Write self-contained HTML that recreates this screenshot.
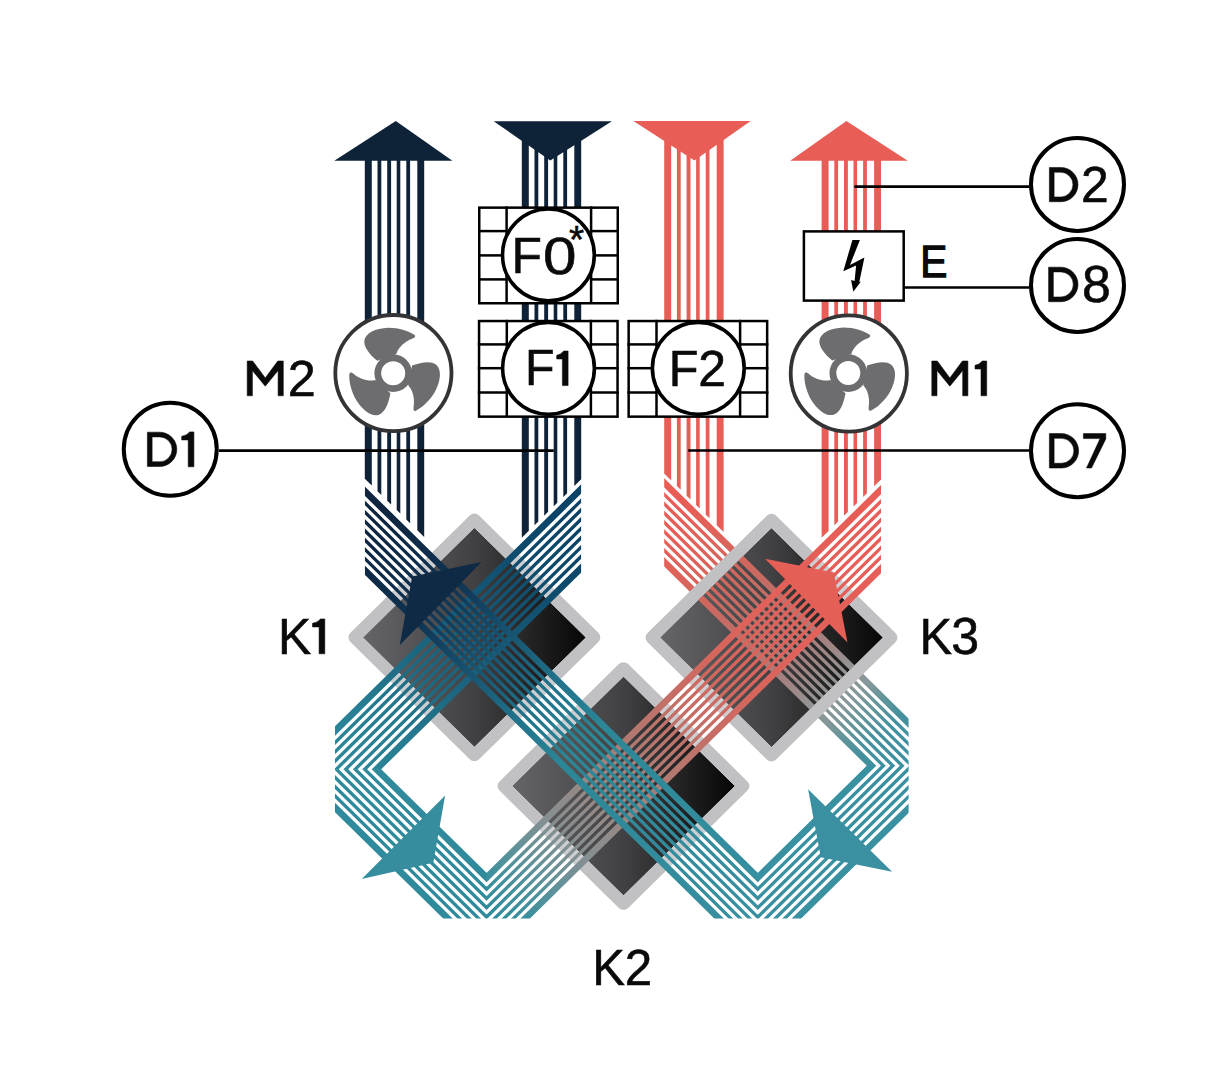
<!DOCTYPE html>
<html><head><meta charset="utf-8"><title>Diagram</title>
<style>html,body{margin:0;padding:0;background:#fff;overflow:hidden;width:1205px;height:1080px;}svg{display:block;}text{font-family:"Liberation Sans",sans-serif;}</style>
</head><body>
<svg width="1205" height="1080" viewBox="0 0 1205 1080">
<defs><clipPath id="r1"><rect x="339.81" y="0" width="241.99" height="769.85"/></clipPath><clipPath id="r2"><rect x="339.81" y="769.25" width="149.04" height="149.25"/></clipPath><clipPath id="r3"><polygon points="488.25,769.25 876.68,381.42 876.68,918.5 488.25,918.5"/></clipPath><clipPath id="r4"><rect x="663.51" y="0" width="240.31" height="766.3"/></clipPath><clipPath id="r5"><rect x="755.5" y="765.7" width="148.32" height="152.8"/></clipPath><clipPath id="r6"><polygon points="369.11,379.31 756.1,765.7 756.1,918.5 369.11,918.5"/></clipPath><linearGradient id="g1" gradientUnits="userSpaceOnUse" x1="581.8" y1="528.55" x2="339.81" y2="770.54"><stop offset="0" stop-color="#0b4266"/><stop offset="0.17" stop-color="#0e4b6d"/><stop offset="0.4" stop-color="#175a78"/><stop offset="0.6" stop-color="#1d6680"/><stop offset="0.78" stop-color="#257a8f"/><stop offset="1" stop-color="#2f8b9c"/></linearGradient><linearGradient id="g3" gradientUnits="userSpaceOnUse" x1="488.85" y1="917" x2="876.68" y2="529.17"><stop offset="0" stop-color="#2f8b9c"/><stop offset="0.05" stop-color="#3a8f9d"/><stop offset="0.12" stop-color="#5d929a"/><stop offset="0.2" stop-color="#858f91"/><stop offset="0.3" stop-color="#988884"/><stop offset="0.4" stop-color="#b07a72"/><stop offset="0.5" stop-color="#c27068"/><stop offset="0.62" stop-color="#d4665d"/><stop offset="0.75" stop-color="#e1615a"/><stop offset="1" stop-color="#e85d56"/></linearGradient><linearGradient id="g4" gradientUnits="userSpaceOnUse" x1="663.51" y1="522.36" x2="903.82" y2="762.67"><stop offset="0" stop-color="#e85d56"/><stop offset="0.12" stop-color="#e06259"/><stop offset="0.25" stop-color="#d0675e"/><stop offset="0.42" stop-color="#b8716b"/><stop offset="0.56" stop-color="#a6807e"/><stop offset="0.68" stop-color="#939393"/><stop offset="0.75" stop-color="#86979a"/><stop offset="0.81" stop-color="#649599"/><stop offset="0.88" stop-color="#46909e"/><stop offset="1" stop-color="#3890a1"/></linearGradient><linearGradient id="g6" gradientUnits="userSpaceOnUse" x1="755.5" y1="917.05" x2="369.11" y2="530.66"><stop offset="0" stop-color="#3890a1"/><stop offset="0.45" stop-color="#2b8696"/><stop offset="0.56" stop-color="#21728a"/><stop offset="0.72" stop-color="#154a68"/><stop offset="0.82" stop-color="#0f3352"/><stop offset="1" stop-color="#0f2540"/></linearGradient><linearGradient id="dg" x1="0" y1="0" x2="1" y2="0"><stop offset="0" stop-color="#656567"/><stop offset="0.5" stop-color="#414143"/><stop offset="1" stop-color="#060606"/></linearGradient><clipPath id="rings"><path clip-rule="evenodd" d="M472.28,515.5 A6.5,6.5 0 0 1 481.48,515.5 L598.78,632.8 A6.5,6.5 0 0 1 598.78,642 L481.48,759.3 A6.5,6.5 0 0 1 472.28,759.3 L354.98,642 A6.5,6.5 0 0 1 354.98,632.8 Z M367.28,637.4 L476.88,527.8 L586.48,637.4 L476.88,747 Z M618.89,664.1 A6.5,6.5 0 0 1 628.08,664.1 L745.39,781.4 A6.5,6.5 0 0 1 745.39,790.6 L628.08,907.9 A6.5,6.5 0 0 1 618.89,907.9 L501.58,790.6 A6.5,6.5 0 0 1 501.58,781.4 Z M513.89,786 L623.49,676.4 L733.09,786 L623.49,895.6 Z M764.42,515.7 A6.5,6.5 0 0 1 773.61,515.7 L890.92,633 A6.5,6.5 0 0 1 890.92,642.2 L773.61,759.5 A6.5,6.5 0 0 1 764.42,759.5 L647.11,642.2 A6.5,6.5 0 0 1 647.11,633 Z M659.41,637.6 L769.01,528 L878.61,637.6 L769.01,747.2 Z"/></clipPath></defs>
<rect width="1205" height="1080" fill="#fff"/>
<polygon fill="#0f2338" points="364.8,160 371.8,160 371.8,485.6 364.8,478.71"/>
<polygon fill="#0f2338" points="377.5,160 381.3,160 381.3,494.94 377.5,491.2"/>
<polygon fill="#0f2338" points="387.2,160 391.1,160 391.1,504.57 387.2,500.74"/>
<polygon fill="#0f2338" points="396.7,160 400.3,160 400.3,513.62 396.7,510.08"/>
<polygon fill="#0f2338" points="406.3,160 410.1,160 410.1,523.26 406.3,519.52"/>
<polygon fill="#0f2338" points="417.3,160 424.2,160 424.2,537.12 417.3,530.34"/>
<polygon fill="#0f2338" points="521.8,135 528.8,135 528.8,530.83 521.8,537.71"/>
<polygon fill="#0f2338" points="534.5,135 538.3,135 538.3,521.49 534.5,525.22"/>
<polygon fill="#0f2338" points="544.2,135 548.1,135 548.1,511.85 544.2,515.69"/>
<polygon fill="#0f2338" points="553.7,135 557.3,135 557.3,502.81 553.7,506.34"/>
<polygon fill="#0f2338" points="563.3,135 567.1,135 567.1,493.17 563.3,496.91"/>
<polygon fill="#0f2338" points="574.3,135 581.2,135 581.2,479.3 574.3,486.09"/>
<polygon fill="#e85d56" points="664.2,135 671.2,135 671.2,480.49 664.2,473.61"/>
<polygon fill="#e85d56" points="676.9,135 680.7,135 680.7,489.83 676.9,486.1"/>
<polygon fill="#e85d56" points="686.6,135 690.5,135 690.5,499.47 686.6,495.63"/>
<polygon fill="#e85d56" points="696.1,135 699.7,135 699.7,508.51 696.1,504.97"/>
<polygon fill="#e85d56" points="705.7,135 709.5,135 709.5,518.15 705.7,514.41"/>
<polygon fill="#e85d56" points="716.7,135 723.6,135 723.6,532.02 716.7,525.23"/>
<polygon fill="#e85d56" points="821.6,160 828.6,160 828.6,530.94 821.6,537.82"/>
<polygon fill="#e85d56" points="834.3,160 838.1,160 838.1,521.6 834.3,525.34"/>
<polygon fill="#e85d56" points="844,160 847.9,160 847.9,511.96 844,515.8"/>
<polygon fill="#e85d56" points="853.5,160 857.1,160 857.1,502.92 853.5,506.46"/>
<polygon fill="#e85d56" points="863.1,160 866.9,160 866.9,493.28 863.1,497.02"/>
<polygon fill="#e85d56" points="874.1,160 881,160 881,479.42 874.1,486.2"/>
<polygon fill="#0f2338" points="334.3,160.8 395.8,121.1 452.4,160.8"/>
<polygon fill="#0f2338" points="493.7,121.2 611.9,121.2 550.3,160.6"/>
<polygon fill="#e85d56" points="633.4,121.1 750.7,121.1 694.4,160.6"/>
<polygon fill="#e85d56" points="790.2,160.8 846.4,121.1 907.8,160.8"/>
<g transform="matrix(1.01700 0 0 1 -10.5876 0)">
<polygon fill="url(#dg)" points="367.28,637.4 476.88,527.8 586.48,637.4 476.88,747"/>
<polygon fill="url(#dg)" points="513.89,786 623.49,676.4 733.09,786 623.49,895.6"/>
<polygon fill="url(#dg)" points="659.41,637.6 769.01,528 878.61,637.6 769.01,747.2"/>
<g clip-path="url(#r4)" stroke="url(#g4)"><polyline fill="none" stroke-width="6.58" stroke-linejoin="miter" stroke-miterlimit="10" points="580,399.35 946.35,765.7 755.5,956.55 290,491.05"/><polyline fill="none" stroke-width="3.32" stroke-linejoin="miter" stroke-miterlimit="10" points="580,410.95 934.75,765.7 755.5,944.95 290,479.45"/><polyline fill="none" stroke-width="3.32" stroke-linejoin="miter" stroke-miterlimit="10" points="580,420.25 925.45,765.7 755.5,935.65 290,470.15"/><polyline fill="none" stroke-width="3.32" stroke-linejoin="miter" stroke-miterlimit="10" points="580,429.55 916.15,765.7 755.5,926.35 290,460.85"/><polyline fill="none" stroke-width="3.32" stroke-linejoin="miter" stroke-miterlimit="10" points="580,438.85 906.85,765.7 755.5,917.05 290,451.55"/><polyline fill="none" stroke-width="3.32" stroke-linejoin="miter" stroke-miterlimit="10" points="580,448.15 897.55,765.7 755.5,907.75 290,442.25"/><polyline fill="none" stroke-width="3.32" stroke-linejoin="miter" stroke-miterlimit="10" points="580,457.45 888.25,765.7 755.5,898.45 290,432.95"/><polyline fill="none" stroke-width="3.32" stroke-linejoin="miter" stroke-miterlimit="10" points="580,466.75 878.95,765.7 755.5,889.15 290,423.65"/><polyline fill="none" stroke-width="6.58" stroke-linejoin="miter" stroke-miterlimit="10" points="580,478.35 867.35,765.7 755.5,877.55 290,412.05"/></g>
<g clip-path="url(#r5)" stroke="#3890a1"><polyline fill="none" stroke-width="6.58" stroke-linejoin="miter" stroke-miterlimit="10" points="580,399.35 946.35,765.7 755.5,956.55 290,491.05"/><polyline fill="none" stroke-width="3.32" stroke-linejoin="miter" stroke-miterlimit="10" points="580,410.95 934.75,765.7 755.5,944.95 290,479.45"/><polyline fill="none" stroke-width="3.32" stroke-linejoin="miter" stroke-miterlimit="10" points="580,420.25 925.45,765.7 755.5,935.65 290,470.15"/><polyline fill="none" stroke-width="3.32" stroke-linejoin="miter" stroke-miterlimit="10" points="580,429.55 916.15,765.7 755.5,926.35 290,460.85"/><polyline fill="none" stroke-width="3.32" stroke-linejoin="miter" stroke-miterlimit="10" points="580,438.85 906.85,765.7 755.5,917.05 290,451.55"/><polyline fill="none" stroke-width="3.32" stroke-linejoin="miter" stroke-miterlimit="10" points="580,448.15 897.55,765.7 755.5,907.75 290,442.25"/><polyline fill="none" stroke-width="3.32" stroke-linejoin="miter" stroke-miterlimit="10" points="580,457.45 888.25,765.7 755.5,898.45 290,432.95"/><polyline fill="none" stroke-width="3.32" stroke-linejoin="miter" stroke-miterlimit="10" points="580,466.75 878.95,765.7 755.5,889.15 290,423.65"/><polyline fill="none" stroke-width="6.58" stroke-linejoin="miter" stroke-miterlimit="10" points="580,478.35 867.35,765.7 755.5,877.55 290,412.05"/></g>
<path fill="#c1c1c3" fill-rule="evenodd" d="M472.28,515.5 A6.5,6.5 0 0 1 481.48,515.5 L598.78,632.8 A6.5,6.5 0 0 1 598.78,642 L481.48,759.3 A6.5,6.5 0 0 1 472.28,759.3 L354.98,642 A6.5,6.5 0 0 1 354.98,632.8 Z M367.28,637.4 L476.88,527.8 L586.48,637.4 L476.88,747 Z M618.89,664.1 A6.5,6.5 0 0 1 628.08,664.1 L745.39,781.4 A6.5,6.5 0 0 1 745.39,790.6 L628.08,907.9 A6.5,6.5 0 0 1 618.89,907.9 L501.58,790.6 A6.5,6.5 0 0 1 501.58,781.4 Z M513.89,786 L623.49,676.4 L733.09,786 L623.49,895.6 Z M764.42,515.7 A6.5,6.5 0 0 1 773.61,515.7 L890.92,633 A6.5,6.5 0 0 1 890.92,642.2 L773.61,759.5 A6.5,6.5 0 0 1 764.42,759.5 L647.11,642.2 A6.5,6.5 0 0 1 647.11,633 Z M659.41,637.6 L769.01,528 L878.61,637.6 L769.01,747.2 Z"/>
<g clip-path="url(#rings)" fill="#f4f8ff" fill-opacity="0.24"><polygon points="369.11,486.51 755.5,872.9 755.5,961.2 369.11,574.81"/><polygon points="339.81,726.39 581.8,484.4 581.8,572.7 339.81,814.69"/><polygon points="488.85,872.85 876.68,485.02 876.68,573.32 488.85,961.15"/></g>
<g clip-path="url(#r3)" stroke="url(#g3)"><polyline fill="none" stroke-width="6.58" stroke-linejoin="miter" stroke-miterlimit="10" points="660,410.85 301.6,769.25 488.85,956.5 960,485.35"/><polyline fill="none" stroke-width="3.32" stroke-linejoin="miter" stroke-miterlimit="10" points="660,422.45 313.2,769.25 488.85,944.9 960,473.75"/><polyline fill="none" stroke-width="3.32" stroke-linejoin="miter" stroke-miterlimit="10" points="660,431.75 322.5,769.25 488.85,935.6 960,464.45"/><polyline fill="none" stroke-width="3.32" stroke-linejoin="miter" stroke-miterlimit="10" points="660,441.05 331.8,769.25 488.85,926.3 960,455.15"/><polyline fill="none" stroke-width="3.32" stroke-linejoin="miter" stroke-miterlimit="10" points="660,450.35 341.1,769.25 488.85,917 960,445.85"/><polyline fill="none" stroke-width="3.32" stroke-linejoin="miter" stroke-miterlimit="10" points="660,459.65 350.4,769.25 488.85,907.7 960,436.55"/><polyline fill="none" stroke-width="3.32" stroke-linejoin="miter" stroke-miterlimit="10" points="660,468.95 359.7,769.25 488.85,898.4 960,427.25"/><polyline fill="none" stroke-width="3.32" stroke-linejoin="miter" stroke-miterlimit="10" points="660,478.25 369,769.25 488.85,889.1 960,417.95"/><polyline fill="none" stroke-width="6.58" stroke-linejoin="miter" stroke-miterlimit="10" points="660,489.85 380.6,769.25 488.85,877.5 960,406.35"/></g>
<g clip-path="url(#r2)" stroke="#2f8b9c"><polyline fill="none" stroke-width="6.58" stroke-linejoin="miter" stroke-miterlimit="10" points="660,410.85 301.6,769.25 488.85,956.5 960,485.35"/><polyline fill="none" stroke-width="3.32" stroke-linejoin="miter" stroke-miterlimit="10" points="660,422.45 313.2,769.25 488.85,944.9 960,473.75"/><polyline fill="none" stroke-width="3.32" stroke-linejoin="miter" stroke-miterlimit="10" points="660,431.75 322.5,769.25 488.85,935.6 960,464.45"/><polyline fill="none" stroke-width="3.32" stroke-linejoin="miter" stroke-miterlimit="10" points="660,441.05 331.8,769.25 488.85,926.3 960,455.15"/><polyline fill="none" stroke-width="3.32" stroke-linejoin="miter" stroke-miterlimit="10" points="660,450.35 341.1,769.25 488.85,917 960,445.85"/><polyline fill="none" stroke-width="3.32" stroke-linejoin="miter" stroke-miterlimit="10" points="660,459.65 350.4,769.25 488.85,907.7 960,436.55"/><polyline fill="none" stroke-width="3.32" stroke-linejoin="miter" stroke-miterlimit="10" points="660,468.95 359.7,769.25 488.85,898.4 960,427.25"/><polyline fill="none" stroke-width="3.32" stroke-linejoin="miter" stroke-miterlimit="10" points="660,478.25 369,769.25 488.85,889.1 960,417.95"/><polyline fill="none" stroke-width="6.58" stroke-linejoin="miter" stroke-miterlimit="10" points="660,489.85 380.6,769.25 488.85,877.5 960,406.35"/></g>
<g clip-path="url(#r1)" stroke="url(#g1)"><polyline fill="none" stroke-width="6.58" stroke-linejoin="miter" stroke-miterlimit="10" points="660,410.85 301.6,769.25 488.85,956.5 960,485.35"/><polyline fill="none" stroke-width="3.32" stroke-linejoin="miter" stroke-miterlimit="10" points="660,422.45 313.2,769.25 488.85,944.9 960,473.75"/><polyline fill="none" stroke-width="3.32" stroke-linejoin="miter" stroke-miterlimit="10" points="660,431.75 322.5,769.25 488.85,935.6 960,464.45"/><polyline fill="none" stroke-width="3.32" stroke-linejoin="miter" stroke-miterlimit="10" points="660,441.05 331.8,769.25 488.85,926.3 960,455.15"/><polyline fill="none" stroke-width="3.32" stroke-linejoin="miter" stroke-miterlimit="10" points="660,450.35 341.1,769.25 488.85,917 960,445.85"/><polyline fill="none" stroke-width="3.32" stroke-linejoin="miter" stroke-miterlimit="10" points="660,459.65 350.4,769.25 488.85,907.7 960,436.55"/><polyline fill="none" stroke-width="3.32" stroke-linejoin="miter" stroke-miterlimit="10" points="660,468.95 359.7,769.25 488.85,898.4 960,427.25"/><polyline fill="none" stroke-width="3.32" stroke-linejoin="miter" stroke-miterlimit="10" points="660,478.25 369,769.25 488.85,889.1 960,417.95"/><polyline fill="none" stroke-width="6.58" stroke-linejoin="miter" stroke-miterlimit="10" points="660,489.85 380.6,769.25 488.85,877.5 960,406.35"/></g>
<g clip-path="url(#r6)" stroke="url(#g6)"><polyline fill="none" stroke-width="6.58" stroke-linejoin="miter" stroke-miterlimit="10" points="580,399.35 946.35,765.7 755.5,956.55 290,491.05"/><polyline fill="none" stroke-width="3.32" stroke-linejoin="miter" stroke-miterlimit="10" points="580,410.95 934.75,765.7 755.5,944.95 290,479.45"/><polyline fill="none" stroke-width="3.32" stroke-linejoin="miter" stroke-miterlimit="10" points="580,420.25 925.45,765.7 755.5,935.65 290,470.15"/><polyline fill="none" stroke-width="3.32" stroke-linejoin="miter" stroke-miterlimit="10" points="580,429.55 916.15,765.7 755.5,926.35 290,460.85"/><polyline fill="none" stroke-width="3.32" stroke-linejoin="miter" stroke-miterlimit="10" points="580,438.85 906.85,765.7 755.5,917.05 290,451.55"/><polyline fill="none" stroke-width="3.32" stroke-linejoin="miter" stroke-miterlimit="10" points="580,448.15 897.55,765.7 755.5,907.75 290,442.25"/><polyline fill="none" stroke-width="3.32" stroke-linejoin="miter" stroke-miterlimit="10" points="580,457.45 888.25,765.7 755.5,898.45 290,432.95"/><polyline fill="none" stroke-width="3.32" stroke-linejoin="miter" stroke-miterlimit="10" points="580,466.75 878.95,765.7 755.5,889.15 290,423.65"/><polyline fill="none" stroke-width="6.58" stroke-linejoin="miter" stroke-miterlimit="10" points="580,478.35 867.35,765.7 755.5,877.55 290,412.05"/></g>
</g>
<polygon fill="#0f2a44" points="481.7,562 399.8,645 412.2,576.5"/>
<polygon fill="#e45f56" points="765,558.75 847.5,642.5 833.75,572.5"/>
<polygon fill="#368d9e" points="445.1,795.5 361.7,878.9 433.3,862.7"/>
<polygon fill="#3a8fa1" points="808.1,789.3 892.1,871.7 820.8,857.3"/>
<g fill="none" stroke="#000" stroke-width="2.5"><rect x="479.25" y="207.65" width="138.5" height="95.6" fill="#fff"/><line x1="506.6" y1="206.4" x2="506.6" y2="304"/><line x1="591.1" y1="206.4" x2="591.1" y2="304"/><line x1="478" y1="231.1" x2="506.6" y2="231.1"/><line x1="591.1" y1="231.1" x2="619" y2="231.1"/><line x1="478" y1="255.4" x2="506.6" y2="255.4"/><line x1="591.1" y1="255.4" x2="619" y2="255.4"/><line x1="478" y1="279.4" x2="506.6" y2="279.4"/><line x1="591.1" y1="279.4" x2="619" y2="279.4"/></g><circle cx="548.4" cy="254.9" r="45.9" fill="#fff" stroke="#000" stroke-width="3.6"/>
<g fill="none" stroke="#000" stroke-width="2.5"><rect x="479.05" y="321.05" width="138.5" height="95.6" fill="#fff"/><line x1="506.8" y1="319.8" x2="506.8" y2="417.4"/><line x1="590.9" y1="319.8" x2="590.9" y2="417.4"/><line x1="477.8" y1="344.4" x2="506.8" y2="344.4"/><line x1="590.9" y1="344.4" x2="618.8" y2="344.4"/><line x1="477.8" y1="368.2" x2="506.8" y2="368.2"/><line x1="590.9" y1="368.2" x2="618.8" y2="368.2"/><line x1="477.8" y1="392.5" x2="506.8" y2="392.5"/><line x1="590.9" y1="392.5" x2="618.8" y2="392.5"/></g><circle cx="548.5" cy="368.3" r="45.9" fill="#fff" stroke="#000" stroke-width="3.6"/>
<g fill="none" stroke="#000" stroke-width="2.5"><rect x="628.65" y="321.05" width="138.5" height="95.6" fill="#fff"/><line x1="656.5" y1="319.8" x2="656.5" y2="417.4"/><line x1="740.1" y1="319.8" x2="740.1" y2="417.4"/><line x1="627.4" y1="344.4" x2="656.5" y2="344.4"/><line x1="740.1" y1="344.4" x2="768.4" y2="344.4"/><line x1="627.4" y1="368.2" x2="656.5" y2="368.2"/><line x1="740.1" y1="368.2" x2="768.4" y2="368.2"/><line x1="627.4" y1="392.5" x2="656.5" y2="392.5"/><line x1="740.1" y1="392.5" x2="768.4" y2="392.5"/></g><circle cx="698.3" cy="368.3" r="45.9" fill="#fff" stroke="#000" stroke-width="3.6"/>
<circle cx="393.4" cy="373.1" r="58.1" fill="#fff" stroke="#343436" stroke-width="3.8"/><g transform="translate(393.2 373.2)" fill="#6d6d6f"><path d="M-16,-12.5 C-24,-19 -30,-27 -28.8,-33 C-27.5,-40 -18,-45 -5,-45.5 C6,-45.5 16,-42 21,-38.5 C23,-37 21.5,-35.5 19,-34.5 C12,-32 5,-26 3,-19 Z" transform="rotate(0)"/><path d="M-16,-12.5 C-24,-19 -30,-27 -28.8,-33 C-27.5,-40 -18,-45 -5,-45.5 C6,-45.5 16,-42 21,-38.5 C23,-37 21.5,-35.5 19,-34.5 C12,-32 5,-26 3,-19 Z" transform="rotate(120)"/><path d="M-16,-12.5 C-24,-19 -30,-27 -28.8,-33 C-27.5,-40 -18,-45 -5,-45.5 C6,-45.5 16,-42 21,-38.5 C23,-37 21.5,-35.5 19,-34.5 C12,-32 5,-26 3,-19 Z" transform="rotate(240)"/><circle r="18.8"/><circle r="12" fill="#fff"/></g>
<circle cx="848.8" cy="373.5" r="58.1" fill="#fff" stroke="#343436" stroke-width="3.8"/><g transform="translate(848.3 373.1)" fill="#6d6d6f"><path d="M-16,-12.5 C-24,-19 -30,-27 -28.8,-33 C-27.5,-40 -18,-45 -5,-45.5 C6,-45.5 16,-42 21,-38.5 C23,-37 21.5,-35.5 19,-34.5 C12,-32 5,-26 3,-19 Z" transform="rotate(0)"/><path d="M-16,-12.5 C-24,-19 -30,-27 -28.8,-33 C-27.5,-40 -18,-45 -5,-45.5 C6,-45.5 16,-42 21,-38.5 C23,-37 21.5,-35.5 19,-34.5 C12,-32 5,-26 3,-19 Z" transform="rotate(120)"/><path d="M-16,-12.5 C-24,-19 -30,-27 -28.8,-33 C-27.5,-40 -18,-45 -5,-45.5 C6,-45.5 16,-42 21,-38.5 C23,-37 21.5,-35.5 19,-34.5 C12,-32 5,-26 3,-19 Z" transform="rotate(240)"/><circle r="18.8"/><circle r="12" fill="#fff"/></g>
<rect x="803.9" y="231.4" width="99.8" height="69.2" fill="#fff" stroke="#000" stroke-width="2.5"/>
<polygon fill="#000" points="852.4,239.9 859.9,239.9 850,264.9 864.4,257.4 859.3,282 860.9,281.6 853.3,291.8 851.1,279.9 854.6,281 856.1,265.4 843.3,271.3"/>
<g stroke="#000" stroke-width="2.6">
<line x1="219" y1="450.6" x2="553.8" y2="450.6"/>
<line x1="688.2" y1="450.5" x2="1029" y2="450.5"/>
<line x1="854.4" y1="186.6" x2="1029" y2="186.6"/>
<line x1="904" y1="287.5" x2="1029" y2="287.5"/>
</g>
<circle cx="170.25" cy="449.25" r="46.5" fill="#fff" stroke="#000" stroke-width="4"/>
<circle cx="1077.5" cy="184.4" r="46.5" fill="#fff" stroke="#000" stroke-width="4"/>
<circle cx="1077.5" cy="285.4" r="46.5" fill="#fff" stroke="#000" stroke-width="4"/>
<circle cx="1077.5" cy="450.8" r="46.5" fill="#fff" stroke="#000" stroke-width="4"/>
<g fill="#0a0a0a" stroke="#0a0a0a" stroke-width="0.55" font-family="Liberation Sans"><path fill-rule="evenodd" d="M147.38,432.17 L159.65,432.17 A17.18,17.18 0 0 1 159.65,466.53 L147.38,466.53 Z M152.12,436.92 L159.65,436.92 A12.43,12.43 0 0 1 159.65,461.78 L152.12,461.78 Z"/><path d="M193.9,431.9 L193.9,466.8 L188.2,466.8 L188.2,439.93 L181.7,439.93 L181.7,436.26 Q186.6,435.56 189.6,431.9 Z"/><path fill-rule="evenodd" d="M1049.38,167.47 L1060.9,167.47 A17.12,17.12 0 0 1 1060.9,201.72 L1049.38,201.72 Z M1054.12,172.22 L1060.9,172.22 A12.38,12.38 0 0 1 1060.9,196.97 L1054.12,196.97 Z"/><text transform="translate(1081.09 201.72) scale(0.99 1)" font-size="50.36">2</text><path fill-rule="evenodd" d="M1048.58,267.17 L1060.75,267.17 A17.28,17.28 0 0 1 1060.75,301.73 L1048.58,301.73 Z M1053.33,271.92 L1060.75,271.92 A12.53,12.53 0 0 1 1060.75,296.98 L1053.33,296.98 Z"/><text transform="translate(1082.09 302.12) scale(1.01 1)" font-size="51.38">8</text><path fill-rule="evenodd" d="M1049.38,433.57 L1061.4,433.57 A17.23,17.23 0 0 1 1061.4,468.03 L1049.38,468.03 Z M1054.12,438.32 L1061.4,438.32 A12.48,12.48 0 0 1 1061.4,463.28 L1054.12,463.28 Z"/><polygon points="1083.4,433.6 1105.8,433.6 1105.8,438.9 1091.5,468 1086.5,468 1100.1,438.6 1083.4,438.6"/><text transform="translate(278.08 653.52) scale(1 1)" font-size="49.78">K</text><path d="M324.8,618.9 L324.8,653.8 L319.1,653.8 L319.1,626.93 L312.5,626.93 L312.5,623.26 Q317.5,622.56 320.5,618.9 Z"/><text transform="translate(592.25 985.12) scale(0.98 1)" font-size="50.07">K</text><text transform="translate(624.71 985.12) scale(0.97 1)" font-size="50.8">2</text><text transform="translate(919.47 653.52) scale(0.98 1)" font-size="49.78">K</text><text transform="translate(951.37 653.93) scale(0.98 1)" font-size="51.09">3</text><path d="M247.2,395.8 L247.2,361 L252.7,361 L265.25,377.91 L277.8,361 L283.3,361 L283.3,395.8 L278.1,395.8 L278.1,370.6 L265.25,386.2 L252.4,370.6 L252.4,395.8 Z"/><text transform="translate(287.86 395.53) scale(1 1)" font-size="50.36">2</text><path d="M931.8,395.8 L931.8,361 L937.3,361 L949.85,377.91 L962.4,361 L967.9,361 L967.9,395.8 L962.7,395.8 L962.7,370.6 L949.85,386.2 L937,370.6 L937,395.8 Z"/><path d="M986.7,361 L986.7,395.8 L981,395.8 L981,369 L975,369 L975,365.35 Q979.4,364.65 982.4,361 Z"/><g stroke-width="1.3"><text transform="translate(920.22 277.43) scale(0.9 1)" font-size="45.14">E</text></g><text transform="translate(511.4 273.33) scale(1.01 1)" font-size="49.35">F</text><text transform="translate(542.88 273.93) scale(1.18 1)" font-size="50.94">0</text><text transform="translate(525.11 385.33) scale(0.98 1)" font-size="49.35">F</text><path d="M568.1,351 L568.1,385.6 L562.4,385.6 L562.4,358.96 L556.7,358.96 L556.7,355.32 Q560.8,354.63 563.8,351 Z"/><text transform="translate(668.66 385.53) scale(0.99 1)" font-size="49.2">F</text><text transform="translate(698.17 385.53) scale(1 1)" font-size="49.93">2</text><text transform="translate(568.89 252.79) scale(1 1)" font-size="39">*</text></g>
</svg>
</body></html>
